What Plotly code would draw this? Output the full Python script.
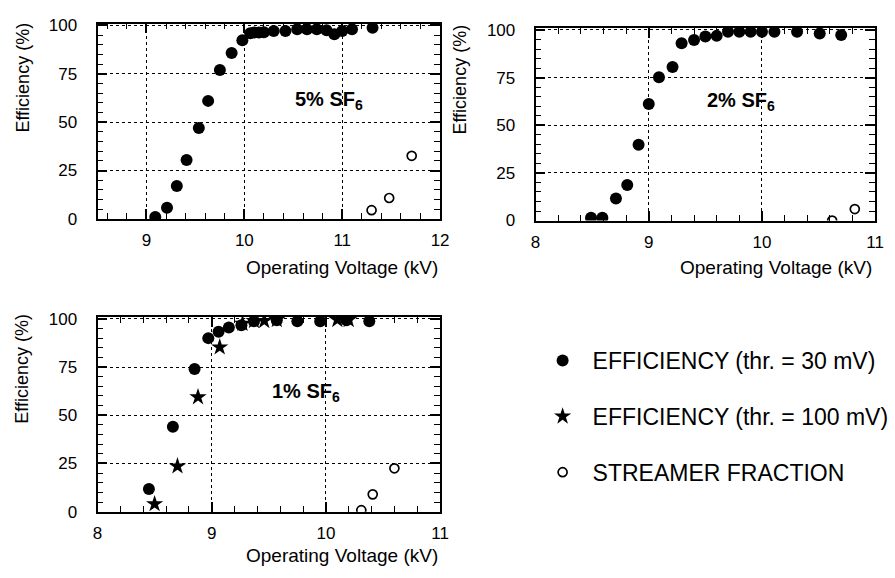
import plotly.graph_objects as go

W, H = 895, 578

# ---- data: 5% SF6 ----
v5_eff = [9.09, 9.21, 9.31, 9.41, 9.535, 9.63, 9.75, 9.87, 9.98, 10.06, 10.10, 10.15, 10.20, 10.30,
          10.42, 10.54, 10.64, 10.74, 10.84, 10.92, 11.00, 11.10, 11.31]
e5_eff = [1, 5.8, 17, 30.4, 47, 61, 77, 85.7, 92.4, 96, 96.3, 96.3, 96.5, 97.1,
          97.1, 98, 98, 98, 97.5, 95.5, 97.1, 98, 98.8]
v5_str = [11.30, 11.48, 11.71]
e5_str = [4.5, 10.8, 32.6]

# ---- data: 2% SF6 ----
v2_eff = [8.49, 8.59, 8.71, 8.81, 8.91, 9.00, 9.09, 9.21, 9.29, 9.40, 9.50, 9.60, 9.70, 9.80,
          9.90, 10.00, 10.11, 10.31, 10.51, 10.70]
e2_eff = [1.4, 1.4, 11.6, 18.7, 39.8, 61.2, 75.2, 80.6, 93, 94.7, 96.6, 96.9, 99.1, 99,
          99, 99, 99, 99, 98.1, 97.3]
v2_str = [10.62, 10.82]
e2_str = [0, 6]

# ---- data: 1% SF6 ----
v1_eff = [8.45, 8.66, 8.85, 8.97, 9.06, 9.15, 9.26, 9.37, 9.57, 9.75, 9.95, 10.18, 10.38]
e1_eff = [11.8, 44, 74, 90, 93.3, 95.5, 96.7, 98.8, 99.3, 98.8, 98.8, 99.3, 98.8]
v1_thr100 = [8.50, 8.70, 8.88, 9.07, 9.27, 9.37, 9.46, 9.57, 10.10, 10.20]
e1_thr100 = [4, 23.6, 59.4, 85.3, 97.5, 99, 99, 99.5, 99.5, 99.5]
v1_str = [10.31, 10.41, 10.60]
e1_str = [0.8, 9, 22.5]

labels = ["EFFICIENCY (thr. = 30 mV)", "EFFICIENCY (thr. = 100 mV)", "STREAMER FRACTION"]
panel_text = ["5% SF<sub>6</sub>", "2% SF<sub>6</sub>", "1% SF<sub>6</sub>"]
xranges = [[8.5, 12], [8, 11], [8, 11]]

FONT = "Liberation Sans, Arial, sans-serif"

def px(x):
    return x / W

def py(y):
    return (H - y) / H

fig = go.Figure()

filled = dict(symbol="circle", size=12, color="black")
star = dict(symbol="star", size=13, color="black")
opn = dict(symbol="circle-open", size=9, color="black", line=dict(width=1.7, color="black"))

# panel 1
fig.add_trace(go.Scatter(x=v5_eff, y=e5_eff, mode="markers", marker=filled, xaxis="x", yaxis="y",
                         name=labels[0], legendgroup="a", showlegend=True))
fig.add_trace(go.Scatter(x=v5_str, y=e5_str, mode="markers", marker=opn, xaxis="x", yaxis="y",
                         name=labels[2], legendgroup="c", showlegend=False))
# panel 2
fig.add_trace(go.Scatter(x=v2_eff, y=e2_eff, mode="markers", marker=filled, xaxis="x2", yaxis="y2",
                         name=labels[0], legendgroup="a", showlegend=False))
fig.add_trace(go.Scatter(x=v2_str, y=e2_str, mode="markers", marker=opn, xaxis="x2", yaxis="y2",
                         name=labels[2], legendgroup="c", showlegend=False))
# panel 3
fig.add_trace(go.Scatter(x=v1_eff, y=e1_eff, mode="markers", marker=filled, xaxis="x3", yaxis="y3",
                         name=labels[0], legendgroup="a", showlegend=False))
fig.add_trace(go.Scatter(x=v1_thr100, y=e1_thr100, mode="markers", marker=star, xaxis="x3", yaxis="y3",
                         name=labels[1], legendgroup="b", showlegend=True))
fig.add_trace(go.Scatter(x=v1_str, y=e1_str, mode="markers", marker=opn, xaxis="x3", yaxis="y3",
                         name=labels[2], legendgroup="c", showlegend=True))

boxes = [  # left, right, top, bottom (px)
    (94, 442, 17, 218.3),
    (539, 884, 21.7, 220),
    (94, 442, 319.3, 520),
]

def xaxis_cfg(dom, rng, anchor):
    return dict(domain=dom, range=rng, anchor=anchor, dtick=1,
                ticks="inside", ticklen=10, tickwidth=1.6, tickcolor="black",
                showline=True, linecolor="black", linewidth=1.8, mirror="ticks",
                showgrid=True, gridcolor="black", gridwidth=1.2, griddash="dot",
                zeroline=False, ticklabelstandoff=5,
                tickfont=dict(family=FONT, size=17, color="black"),
                minor=dict(dtick=0.2, ticks="inside", ticklen=6, tickcolor="black", tickwidth=1.4,
                           showgrid=False))

def yaxis_cfg(dom, anchor):
    return dict(domain=dom, range=[0, 101], anchor=anchor, dtick=25,
                ticks="inside", ticklen=10, tickwidth=1.6, tickcolor="black",
                showline=True, linecolor="black", linewidth=1.8, mirror="ticks",
                showgrid=True, gridcolor="black", gridwidth=1.2, griddash="dot",
                zeroline=False, ticklabelstandoff=15,
                tickfont=dict(family=FONT, size=17, color="black"),
                minor=dict(dtick=5, ticks="inside", ticklen=6, tickcolor="black", tickwidth=1.4,
                           showgrid=False))

layout = dict(width=W, height=H, margin=dict(l=0, r=0, t=0, b=0),
              paper_bgcolor="white", plot_bgcolor="white", showlegend=True)
names = [("xaxis", "yaxis", "y", "x"), ("xaxis2", "yaxis2", "y2", "x2"), ("xaxis3", "yaxis3", "y3", "x3")]
for i, (l, r, t, b) in enumerate(boxes):
    xn, yn, ya, xa = names[i]
    layout[xn] = xaxis_cfg([px(l), px(r)], xranges[i], ya)
    layout[yn] = yaxis_cfg([py(b), py(t)], xa)

annotations = []
# x titles
for (right, yc) in [(442, 268), (883, 268), (442, 565)]:
    annotations.append(dict(text="Operating Voltage (kV)", x=px(right), y=py(yc), xref="paper", yref="paper",
                            xanchor="right", yanchor="middle", showarrow=False,
                            font=dict(family=FONT, size=19, color="black")))
# y titles
for (xc, yc) in [(18, 73), (462, 75), (17, 373)]:
    annotations.append(dict(text="Efficiency (%)", x=px(xc), y=py(yc), xref="paper", yref="paper",
                            xanchor="center", yanchor="middle", textangle=-90, showarrow=False,
                            font=dict(family=FONT, size=18, color="black")))
# panel labels
for (xc, yc), txt in zip([(329, 96), (748, 97), (306, 397)], panel_text):
    annotations.append(dict(text="<b>" + txt + "</b>", x=px(xc), y=py(yc), xref="paper", yref="paper",
                            xanchor="center", yanchor="middle", showarrow=False,
                            font=dict(family=FONT, size=20, color="black")))
layout["annotations"] = annotations

layout["legend"] = dict(x=px(536), y=py(342), xanchor="left", yanchor="top",
                        font=dict(family=FONT, size=23, color="black"),
                        bgcolor="rgba(0,0,0,0)", borderwidth=0, itemwidth=50,
                        tracegroupgap=23, traceorder="grouped")

fig.update_layout(**layout)
fig.write_html("out.html")
